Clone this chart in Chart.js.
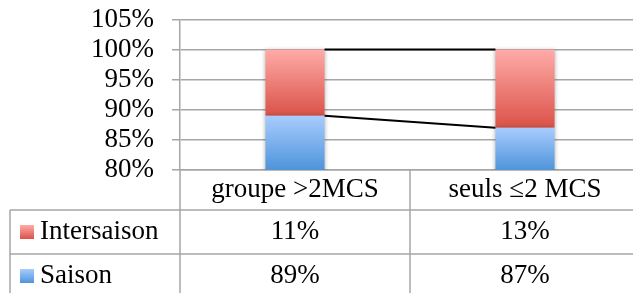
<!DOCTYPE html>
<html>
<head>
<meta charset="utf-8">
<script src="https://cdn.jsdelivr.net/npm/chart.js@4/dist/chart.umd.min.js"></script>
<style>
  html, body { margin: 0; padding: 0; background: #fff; }
  #wrap { width: 633px; height: 293px; overflow: hidden; }
</style>
</head>
<body>
<div id="wrap"><canvas id="chart" width="640" height="293"></canvas></div>
<script>
const categories = ["groupe >2MCS", "seuls \u22642 MCS"];
const seriesNames = ["Saison", "Intersaison"];
const saison = [89, 87];
const intersaison = [11, 13];
const yMin = 80, yMax = 105, yStep = 5;

const FONT = "'Liberation Serif', 'Times New Roman', serif";
const FONT_SIZE = 27;
const LINE = "#a6a6a6";

const colors = {
  saison: ["#a8ccff", "#4e94da"],
  intersaison: ["#ffaba8", "#da5248"]
};

function barGradient(chart, i, which) {
  const { ctx, chartArea, scales } = chart;
  if (!chartArea) return colors[which][1];
  let top, bottom;
  if (which === "saison") {
    top = scales.y.getPixelForValue(saison[i]);
    bottom = chartArea.bottom;
  } else {
    top = scales.y.getPixelForValue(saison[i] + intersaison[i]);
    bottom = scales.y.getPixelForValue(saison[i]);
  }
  const g = ctx.createLinearGradient(0, top, 0, bottom);
  g.addColorStop(0, colors[which][0]);
  g.addColorStop(1, colors[which][1]);
  return g;
}

function keyBox(ctx, x, y, size, which) {
  const g = ctx.createLinearGradient(0, y, 0, y + size);
  g.addColorStop(0, colors[which][0]);
  g.addColorStop(1, colors[which][1]);
  ctx.fillStyle = g;
  ctx.fillRect(x, y, size, size);
}

// bar shadows + series lines between stacks
const seriesLines = {
  id: "seriesLines",
  beforeDatasetsDraw(chart) {
    const ctx = chart.ctx;
    ctx.save();
    ctx.shadowColor = "rgba(0,0,0,0.3)";
    ctx.shadowBlur = 4;
  },
  afterDatasetsDraw(chart) {
    const ctx = chart.ctx;
    ctx.restore();
    const y = chart.scales.y;
    const bars = chart.getDatasetMeta(0).data;
    ctx.save();
    ctx.strokeStyle = "#000";
    ctx.lineWidth = 2;
    for (let i = 0; i < bars.length - 1; i++) {
      const x0 = bars[i].x + bars[i].width / 2;
      const x1 = bars[i + 1].x - bars[i + 1].width / 2;
      const levels = [
        [saison[i], saison[i + 1]],
        [saison[i] + intersaison[i], saison[i + 1] + intersaison[i + 1]]
      ];
      levels.forEach(([a, b]) => {
        ctx.beginPath();
        ctx.moveTo(x0, y.getPixelForValue(a));
        ctx.lineTo(x1, y.getPixelForValue(b));
        ctx.stroke();
      });
    }
    ctx.restore();
  }
};

// data table under the chart
const dataTable = {
  id: "dataTable",
  afterDraw(chart) {
    const { ctx, chartArea, scales } = chart;
    const x = scales.x;
    const top = chartArea.bottom;
    const headH = 40, rowH = 44;
    const r1 = top + headH, r2 = r1 + rowH, r3 = r2 + rowH;
    const left = 10;
    const right = chart.width;
    const mid = (x.getPixelForValue(0) + x.getPixelForValue(1)) / 2;

    ctx.save();
    ctx.strokeStyle = LINE;
    ctx.lineWidth = 1.5;
    ctx.beginPath();
    ctx.moveTo(left, r1); ctx.lineTo(right, r1);
    ctx.moveTo(left, r2); ctx.lineTo(right, r2);
    ctx.moveTo(left, r1); ctx.lineTo(left, r3);
    ctx.moveTo(chartArea.left, top); ctx.lineTo(chartArea.left, r3);
    ctx.moveTo(mid, top); ctx.lineTo(mid, r3);
    ctx.stroke();

    ctx.fillStyle = "#000";
    ctx.font = FONT_SIZE + "px " + FONT;
    ctx.textAlign = "center";
    ctx.textBaseline = "middle";
    categories.forEach((c, i) => {
      const cx = x.getPixelForValue(i);
      ctx.fillText(c, cx, top + headH / 2);
      ctx.fillText(intersaison[i] + "%", cx, r1 + rowH / 2);
      ctx.fillText(saison[i] + "%", cx, r2 + rowH / 2);
    });

    ctx.textAlign = "left";
    keyBox(ctx, 20, r1 + rowH / 2 - 7, 14, "intersaison");
    ctx.fillStyle = "#000";
    ctx.fillText(seriesNames[1], 40, r1 + rowH / 2);
    keyBox(ctx, 20, r2 + rowH / 2 - 7, 14, "saison");
    ctx.fillStyle = "#000";
    ctx.fillText(seriesNames[0], 40, r2 + rowH / 2);
    ctx.restore();
  }
};

new Chart(document.getElementById("chart"), {
  type: "bar",
  data: {
    labels: categories,
    datasets: [
      {
        label: seriesNames[0],
        data: saison,
        backgroundColor: c => barGradient(c.chart, c.dataIndex, "saison"),
        barPercentage: 0.257,
        categoryPercentage: 1
      },
      {
        label: seriesNames[1],
        data: intersaison,
        backgroundColor: c => barGradient(c.chart, c.dataIndex, "intersaison"),
        barPercentage: 0.257,
        categoryPercentage: 1
      }
    ]
  },
  options: {
    responsive: false,
    animation: false,
    layout: { padding: { top: 19.5, bottom: 123, left: 0, right: 0 } },
    plugins: {
      legend: { display: false },
      tooltip: { enabled: false }
    },
    scales: {
      x: {
        stacked: true,
        ticks: { display: false },
        grid: { display: false },
        border: { color: LINE, width: 1.5 },
        afterFit: s => { s.height = 0; }
      },
      y: {
        stacked: true,
        min: yMin,
        max: yMax,
        ticks: {
          stepSize: yStep,
          autoSkip: false,
          padding: 18,
          color: "#000",
          font: { family: FONT, size: FONT_SIZE },
          callback: v => v + "%"
        },
        grid: { color: LINE, lineWidth: 1.5, tickLength: 8 },
        border: { color: LINE, width: 1.5 },
        afterFit: s => {
          s.width = 180;
          s.paddingTop = 0;
          s.paddingBottom = 0;
        }
      }
    }
  },
  plugins: [seriesLines, dataTable]
});
</script>
</body>
</html>
